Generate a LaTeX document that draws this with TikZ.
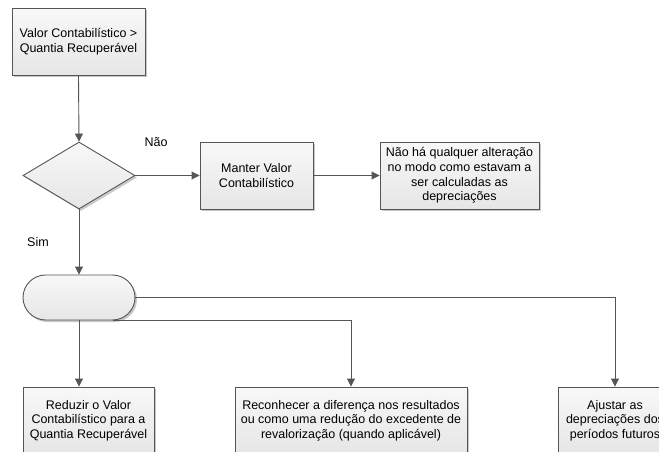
\documentclass[tikz,border=0pt]{standalone}
\usepackage{fontspec}
\setmainfont{Liberation Sans}
\usetikzlibrary{arrows.meta,shapes.geometric,shadows}

\definecolor{edge}{HTML}{555555}
\definecolor{filltop}{HTML}{F8F8F8}
\definecolor{fillbot}{HTML}{E6E6E6}

\tikzset{
  shape box/.style={draw=edge, line width=0.9pt, top color=filltop, bottom color=fillbot,
    drop shadow={shadow xshift=2pt, shadow yshift=-2pt, fill=black!22, opacity=1},
    align=center, inner sep=0pt, font=\fontsize{12.5}{14.7}\selectfont},
  procbox/.style={shape box, rectangle},
  decision/.style={shape box, diamond, drop shadow={shadow xshift=1.5pt, shadow yshift=-1.5pt, fill=black!18}},
  terminal/.style={shape box, rectangle, rounded corners=22.5pt},
  flow/.style={draw=edge, line width=0.9pt, -{Triangle[length=8pt,width=8pt]}},
  tag/.style={font=\fontsize{12.5}{14.7}\selectfont, inner sep=0pt},
}

\begin{document}
\begin{tikzpicture}[x=1pt,y=-1pt]
\useasboundingbox (0,0) rectangle (659,452);
\clip (0,0) rectangle (659,452);

% decision chain
\node[procbox, minimum width=133pt, minimum height=67pt] (vc) at (78.5,42)
  {Valor Contabilístico >\\Quantia Recuperável};
\node[decision, minimum width=112pt, minimum height=67pt] (dec) at (79,175.5) {};
\node[procbox, minimum width=113pt, minimum height=67pt] (keep) at (256.5,175.5)
  {Manter Valor\\Contabilístico};
\node[procbox, minimum width=159pt, minimum height=67pt] (none) at (459.5,175.5)
  {Não há qualquer alteração\\no modo como estavam a\\ser calculadas as\\depreciações};

% branch point
\node[terminal, minimum width=112pt, minimum height=45pt] (split) at (79,297.5) {};
\coordinate[xshift=-22.5pt] (splittap) at (split.south east);

% outcomes
\node[procbox, minimum width=131pt, minimum height=67pt] (reduce) at (88.5,420.5)
  {Reduzir o Valor\\Contabilístico para a\\Quantia Recuperável};
\node[procbox, minimum width=232pt, minimum height=67pt] (recog) at (351,420.5)
  {Reconhecer a diferença nos resultados\\ou como uma redução do excedente de\\revalorização (quando aplicável)};
\node[procbox, minimum width=114pt, minimum height=67pt] (adjust) at (615,420.5)
  {Ajustar as\\depreciações dos\\períodos futuros};

% labels
\node[tag] (nao) at (156,142) {Não};
\node[tag] (sim) at (38,242) {Sim};

% connectors
\draw[flow] (vc.south) -- (dec.north);
\draw[flow] (dec.east) -- (keep.west);
\draw[flow] (keep.east) -- (none.west);
\draw[flow] (dec.south) -- (split.north);
\draw[flow] (split.south) -- (split.south |- reduce.north);
\draw[flow] (splittap) -| (recog.north);
\draw[flow] (split.east) -| (adjust.north);
\end{tikzpicture}
\end{document}
